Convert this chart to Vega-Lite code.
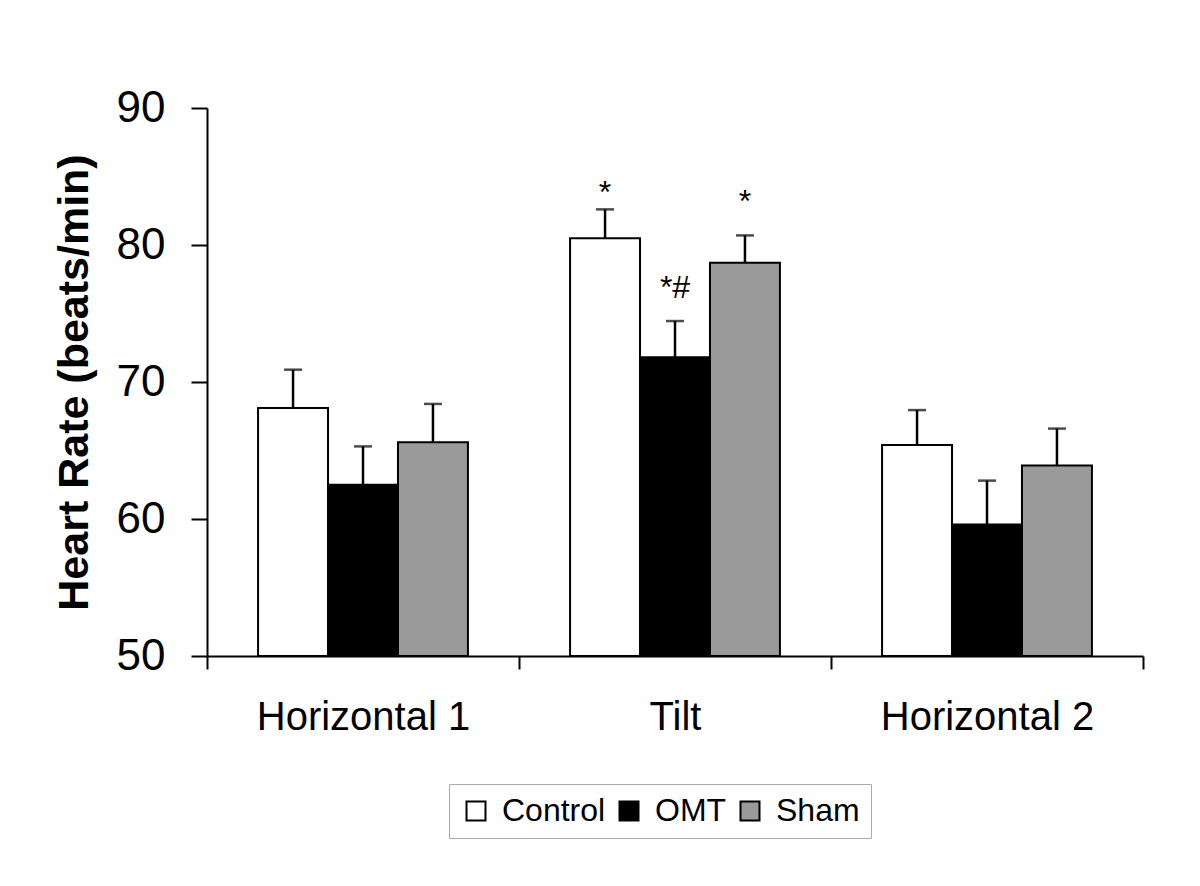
{
  "$schema": "https://vega.github.io/schema/vega-lite/v6.json",
  "width": 936,
  "height": 548,
  "autosize": "none",
  "padding": {"left": 207, "top": 108, "right": 57, "bottom": 230},
  "background": "white",
  "config": {
    "font": "Liberation Sans",
    "view": {"stroke": null},
    "axis": {"domainColor": "black", "tickColor": "black", "labelColor": "black", "titleColor": "black", "grid": false, "domainWidth": 2, "tickWidth": 2}
  },
  "data": {
    "values": [
      {"phase": "Horizontal 1", "group": "Control", "mean": 68.1, "upper": 70.9},
      {"phase": "Horizontal 1", "group": "OMT", "mean": 62.5, "upper": 65.3},
      {"phase": "Horizontal 1", "group": "Sham", "mean": 65.6, "upper": 68.4},
      {"phase": "Tilt", "group": "Control", "mean": 80.5, "upper": 82.6},
      {"phase": "Tilt", "group": "OMT", "mean": 71.8, "upper": 74.45},
      {"phase": "Tilt", "group": "Sham", "mean": 78.7, "upper": 80.7},
      {"phase": "Horizontal 2", "group": "Control", "mean": 65.4, "upper": 67.95},
      {"phase": "Horizontal 2", "group": "OMT", "mean": 59.6, "upper": 62.8},
      {"phase": "Horizontal 2", "group": "Sham", "mean": 63.9, "upper": 66.6}
    ]
  },
  "encoding": {
    "x": {
      "field": "phase",
      "type": "nominal",
      "sort": ["Horizontal 1", "Tilt", "Horizontal 2"],
      "scale": {"paddingInner": 0, "paddingOuter": 0},
      "axis": {"title": null, "labelAngle": 0, "labelFontSize": 40, "labelPadding": 28, "labelLimit": 500, "tickSize": 13, "tickBand": "extent"}
    },
    "xOffset": {
      "field": "group",
      "type": "nominal",
      "sort": ["Control", "OMT", "Sham"],
      "scale": {"paddingInner": 0, "paddingOuter": 0.73}
    }
  },
  "layer": [
    {
      "mark": {"type": "bar", "stroke": "black", "strokeWidth": 2, "opacity": 1},
      "encoding": {
        "y": {
          "field": "mean",
          "type": "quantitative",
          "scale": {"domain": [50, 90], "nice": false, "zero": false},
          "axis": {
            "values": [50, 60, 70, 80, 90],
            "tickSize": 16,
            "labelFontSize": 44,
            "labelPadding": 26,
            "title": "Heart Rate (beats/min)",
            "titleFontSize": 43,
            "titleFontWeight": "bold",
            "titlePadding": 20
          }
        },
        "y2": {"datum": 50},
        "fill": {
          "field": "group",
          "type": "nominal",
          "sort": ["Control", "OMT", "Sham"],
          "scale": {"domain": ["Control", "OMT", "Sham"], "range": ["#ffffff", "#000000", "#9a9a9a"]},
          "legend": {
            "title": null,
            "orient": "none",
            "legendX": 242,
            "legendY": 676,
            "direction": "horizontal",
            "labelFontSize": 32,
            "labelColor": "black",
            "symbolType": "square",
            "symbolSize": 361,
            "symbolStrokeColor": "black",
            "symbolStrokeWidth": 2,
            "symbolOpacity": 1,
            "strokeColor": "#aaaaaa",
            "padding": 11,
            "columnPadding": 7,
            "labelOffset": 10
          }
        }
      }
    },
    {
      "mark": {"type": "rule", "color": "black", "strokeWidth": 2.5},
      "encoding": {
        "y": {"field": "mean", "type": "quantitative"},
        "y2": {"field": "upper"}
      }
    },
    {
      "mark": {"type": "tick", "color": "black", "thickness": 2.5, "size": 18, "orient": "horizontal"},
      "encoding": {
        "y": {"field": "upper", "type": "quantitative"}
      }
    },
    {
      "data": {
        "values": [
          {"phase": "Tilt", "group": "Control", "label": "*", "pos": 83.1},
          {"phase": "Tilt", "group": "OMT", "label": "*#", "pos": 76.1},
          {"phase": "Tilt", "group": "Sham", "label": "*", "pos": 82.4}
        ]
      },
      "mark": {"type": "text", "fontSize": 32, "baseline": "alphabetic", "align": "center", "color": "black"},
      "encoding": {
        "y": {"field": "pos", "type": "quantitative"},
        "text": {"field": "label"}
      }
    }
  ]
}
